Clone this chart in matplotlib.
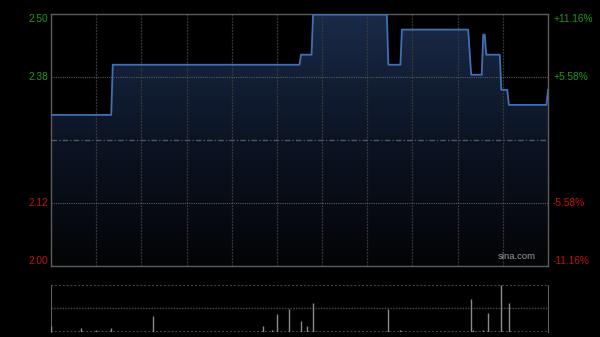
import matplotlib
matplotlib.use("Agg")
import matplotlib.pyplot as plt
import numpy as np
from matplotlib.colors import LinearSegmentedColormap

# ---- data ----
prev_close = 2.25
price_range = 0.2511
# trading minutes since open (0..330) at price breakpoints
price_minutes = [0, 40, 41, 165, 166, 173, 174, 223, 224, 232, 233, 277, 279, 286, 287, 288,
                 289, 298, 299, 303, 304, 329, 330]
prices = [2.30, 2.30, 2.40, 2.40, 2.42, 2.42, 2.50, 2.50, 2.40, 2.40, 2.47, 2.47, 2.38, 2.38,
          2.46, 2.46, 2.42, 2.42, 2.35, 2.35, 2.32, 2.32, 2.35]
vol_minutes = [0, 20, 30, 40, 68, 141, 147, 150, 158, 166, 170, 174, 224, 232, 279, 280,
               287, 290, 299, 304]
volumes = [60000, 40000, 15000, 40000, 157000, 60000, 15000, 174000, 227000, 107000, 60000,
           290000, 224000, 15000, 330000, 15000, 15000, 190000, 467000, 290000]
left_labels = ["2.50", "2.38", "2.12", "2.00"]
right_labels = ["+11.16%", "+5.58%", "-5.58%", "-11.16%"]
total_minutes = 330

fig = plt.figure(figsize=(6.0, 3.37), dpi=100)
fig.patch.set_facecolor("black")

W, H = 600, 337
def ax_rect(x0, y0, x1, y1):
    return [x0 / W, 1 - y1 / H, (x1 - x0) / W, (y1 - y0) / H]

ax = fig.add_axes(ax_rect(51, 14, 548, 266))
ax.set_facecolor("black")
ymin, ymax = prev_close - price_range, prev_close + price_range
ax.set_xlim(0, total_minutes)
ax.set_ylim(ymin, ymax)

# gradient fill under line
x = np.array(price_minutes, dtype=float)
y = np.array(prices)
poly = ax.fill_between(x, y, ymin, color="none", lw=0)
cmap = LinearSegmentedColormap.from_list("g", ["#030405", "#0c1424", "#1a2a48"])
grad = np.linspace(0, 1, 256).reshape(-1, 1)
im = ax.imshow(grad, extent=[0, total_minutes, ymin, ymax], origin="lower", aspect="auto",
               cmap=cmap, zorder=1)
path = poly.get_paths()[0]
im.set_clip_path(path, transform=ax.transData)

ax.plot(x, y, color="#3f6fb5", lw=1.3, zorder=3)

# grid
for m in range(30, total_minutes, 30):
    ax.axvline(m, color="#3a3a3a", lw=0.9, ls=(0, (1.5, 1)), zorder=2)
for v in [prev_close + price_range / 2, prev_close - price_range / 2]:
    ax.axhline(v, color="#5a5a5a", lw=0.8, ls=(0, (1, 1)), zorder=2)
ax.axhline(prev_close, color="#4f5560", lw=1.0, ls=(0, (4, 1.5, 1, 1.5)), zorder=2)

for s in ax.spines.values():
    s.set_color("#5c5c5c")
    s.set_linewidth(1.0)
ax.set_xticks([])
ax.set_yticks([])

green = "#1e9a1e"
red = "#c41010"
fkw = dict(family="Liberation Sans", fontsize=7.3)
ypos = [ymax, prev_close + price_range / 2, prev_close - price_range / 2, ymin]
vas = ["top", "center", "center", "bottom"]
cols = [green, green, red, red]
for lab, rl, yy, va, c in zip(left_labels, right_labels, ypos, vas, cols):
    ax.text(-0.006, yy, lab, transform=ax.get_yaxis_transform(), ha="right", va=va, color=c, **fkw)
    ax.text(1.01, yy, rl, transform=ax.get_yaxis_transform(), ha="left", va=va, color=c, **fkw)

ax.text(0.938, 0.02, "sina.com", transform=ax.transAxes, ha="center", va="bottom",
        color="#9a9a9a", family="Liberation Sans", fontsize=6.8, zorder=5)

# volume panel
vax = fig.add_axes(ax_rect(51, 285, 548, 331.7))
vax.set_facecolor("black")
vmax = max(volumes)
vax.set_xlim(0, total_minutes)
vax.set_ylim(0, vmax)
vax.vlines(vol_minutes, 0, volumes, color="#8a8a8a", lw=1.0, zorder=3)
vax.axhline(vmax / 2, color="#4a4a4a", lw=1.0, ls=(0, (1, 1)), zorder=2)
vax.axhline(vmax, color="#4a4a4a", lw=1.4, ls=(0, (1, 1)), zorder=2)
vax.axhline(0, color="#4a4a4a", lw=1.4, ls=(0, (1, 1)), zorder=2)
for k in ["top", "bottom"]:
    vax.spines[k].set_visible(False)
for k in ["left", "right"]:
    vax.spines[k].set_color("#5c5c5c")
vax.set_xticks([])
vax.set_yticks([])

fig.savefig("out.png", dpi=100, facecolor="black")
